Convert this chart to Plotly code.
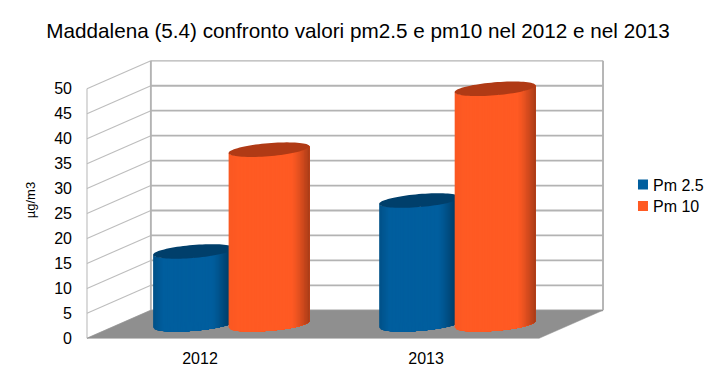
import numpy as np
import plotly.graph_objects as go

categories = ["2012", "2013"]
pm25 = [14.6, 24.8]
pm10 = [35.0, 47.2]
series_names = ["Pm 2.5", "Pm 10"]
y_ticks = [0, 5, 10, 15, 20, 25, 30, 35, 40, 45, 50]
title_text = "Maddalena (5.4) confronto valori pm2.5 e pm10 nel 2012 e nel 2013"
y_title = "µg/m3"

FONT = "Liberation Sans"
PX_X = 226.5
PX_Y = 4.99
DX = 64 / PX_X
DV = 28 / PX_Y
GRID = "#b3b3b3"
FLOOR = "#8f8f8f"
BLUE = (0, 94, 158)
ORANGE = (255, 90, 35)
BLUE_TOP = "#003f6b"
ORANGE_TOP = "#b03a15"


def proj(cat, val, depth=0.0):
    return cat + depth * DX, val + depth * DV


fig = go.Figure()


def line(pts, width, color=GRID):
    xs, ys = zip(*pts)
    fig.add_trace(go.Scatter(x=xs, y=ys, mode="lines", showlegend=False, hoverinfo="skip",
                             line=dict(color=color, width=width)))


# side wall and back wall
for v in y_ticks:
    line([proj(0, v), proj(0, v, 1)], 1.1, "#bdbdbd")
    line([proj(0, v, 1), proj(2, v, 1)], 1.8 if v < 50 else 1.2)
line([proj(0, 0), proj(0, 50)], 1.1, "#bdbdbd")
line([proj(0, 0, 1), proj(0, 50, 1)], 1.9)
line([proj(2, 0, 1), proj(2, 50, 1)], 1.9)

# floor
fx, fy = zip(*[proj(0, 0), proj(2, 0), proj(2, 0, 1), proj(0, 0, 1), proj(0, 0)])
fig.add_trace(go.Scatter(x=fx, y=fy, mode="lines", fill="toself", fillcolor=FLOOR,
                         line=dict(color=FLOOR, width=0.5), showlegend=False, hoverinfo="skip"))

HALF_W = 40.5 / PX_X
B = 6.5 / PX_Y
S = 3.3 / PX_Y


def shade(c, left, drop, start):
    # c in [-1, 1]: lighting across the cylinder
    if c < -0.75:
        return left + (1 - left) * (c + 1) / 0.25
    if c < start:
        return 1.0
    return 1.0 - drop * ((c - start) / (1 - start)) ** 1.3


def cylinder(center, value, rgb, top, left, drop, start):
    cx, v0 = proj(center, 0, 0.5)
    edges = np.linspace(-1, 1, 61)
    for c1, c2 in zip(edges[:-1], edges[1:]):
        # each strip runs to the right rim; the next one paints over it, so no seams show
        cc = np.linspace(c1, 1, 40)
        low = -B * np.sqrt(np.clip(1 - cc ** 2, 0, 1)) + S * cc
        xs = np.r_[cx + HALF_W * cc, cx + HALF_W * cc[::-1]]
        ys = np.r_[v0 + low, v0 + value + low[::-1]]
        f = shade((c1 + c2) / 2, left, drop, start)
        col = "rgb(%d,%d,%d)" % tuple(round(k * f) for k in rgb)
        fig.add_trace(go.Scatter(x=xs, y=ys, mode="none", fill="toself", fillcolor=col,
                                 showlegend=False, hoverinfo="skip"))
    th = np.linspace(0, 2 * np.pi, 80)
    fig.add_trace(go.Scatter(x=cx + HALF_W * np.cos(th),
                             y=v0 + value + B * np.sin(th) + S * np.cos(th),
                             mode="none", fill="toself", fillcolor=top,
                             showlegend=False, hoverinfo="skip"))


for i in range(len(categories)):
    cylinder(i + 0.330, pm25[i], BLUE, BLUE_TOP, 0.86, 0.48, 0.45)
    cylinder(i + 0.664, pm10[i], ORANGE, ORANGE_TOP, 0.98, 0.34, 0.55)

for name, rgb in zip(series_names, [BLUE, ORANGE]):
    fig.add_trace(go.Scatter(x=[None], y=[None], mode="markers", name=name,
                             marker=dict(symbol="square", size=10, color="rgb(%d,%d,%d)" % rgb)))

fig.update_layout(
    width=714, height=387,
    margin=dict(l=80, r=104, t=58, b=45, autoexpand=False),
    paper_bgcolor="white", plot_bgcolor="white",
    font=dict(family=FONT, color="black"),
    title=dict(text=title_text, x=358 / 714, xanchor="center", y=1 - 31 / 387, yanchor="middle",
               font=dict(size=20.7, family=FONT), automargin=False),
    legend=dict(x=1.0245, xanchor="left", y=1 - 196.5 / 387, yanchor="middle", yref="container",
                font=dict(size=16, family=FONT), bgcolor="rgba(0,0,0,0)", tracegroupgap=0),
    xaxis=dict(range=[-7 / PX_X, 2 + 71 / PX_X], showgrid=False, zeroline=False, showline=False,
               tickmode="array", tickvals=[i + 0.5 for i in range(len(categories))], ticktext=categories,
               ticks="", ticklabelstandoff=5, tickfont=dict(size=16, family=FONT), automargin=False),
    yaxis=dict(range=[-3.7 / PX_Y, 280.3 / PX_Y], showgrid=False, zeroline=False, showline=False,
               tickmode="array", tickvals=y_ticks, ticks="", ticklabelstandoff=7,
               tickfont=dict(size=16, family=FONT), automargin=False,
               title=dict(text=y_title, font=dict(size=13, family=FONT), standoff=15)),
)

post = """
document.body.style.margin = '0';
document.querySelectorAll('.legendtext').forEach(function (t) { t.setAttribute('x', '30'); });
var rows = document.querySelectorAll('.legend .traces');
if (rows.length > 1) {
  var m = /translate\\(([-\\d.]+),\\s*([-\\d.]+)\\)/.exec(rows[0].getAttribute('transform'));
  if (m) rows[1].setAttribute('transform', 'translate(' + m[1] + ',' + (parseFloat(m[2]) + 21.7) + ')');
}
"""
fig.write_html("out.html", post_script=post, config={"displayModeBar": False})
